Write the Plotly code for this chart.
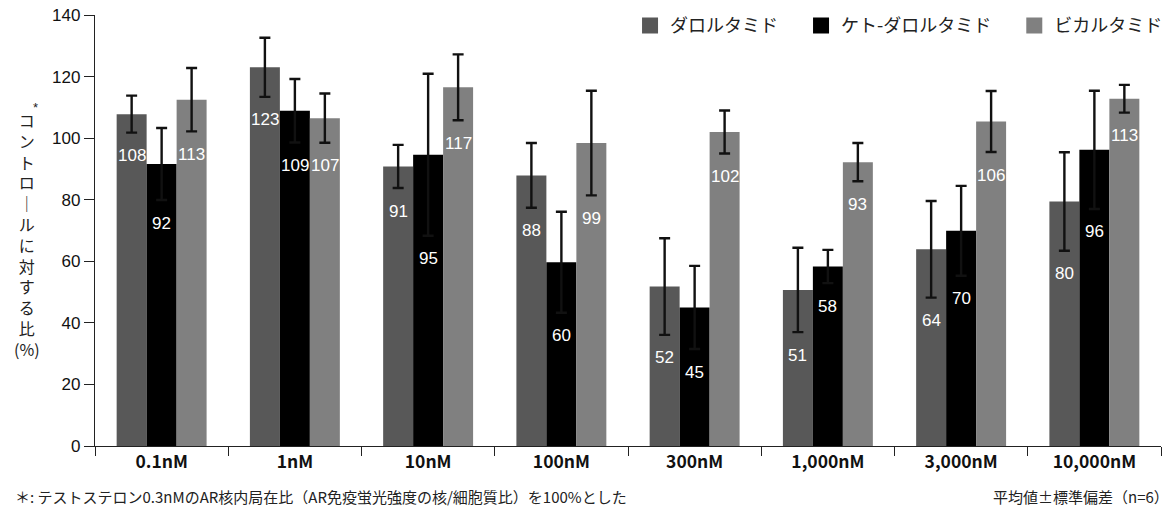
import plotly.graph_objects as go

categories = ["0.1nM", "1nM", "10nM", "100nM", "300nM", "1,000nM", "3,000nM", "10,000nM"]
series_names = ["ダロルタミド", "ケト-ダロルタミド", "ビカルタミド"]

daro = [107.8, 123.0, 90.8, 87.9, 51.8, 50.7, 63.9, 79.4]
daro_sd = [6.0, 9.6, 7.0, 10.5, 15.7, 13.7, 15.7, 16.0]
daro_lbl = ["108", "123", "91", "88", "52", "51", "64", "80"]

keto = [91.6, 108.9, 94.6, 59.7, 45.0, 58.3, 69.9, 96.2]
keto_sd = [11.7, 10.3, 26.3, 16.4, 13.5, 5.4, 14.6, 19.2]
keto_lbl = ["92", "109", "95", "60", "45", "58", "70", "96"]

bica = [112.5, 106.5, 116.5, 98.4, 102.0, 92.2, 105.4, 112.8]
bica_sd = [10.3, 8.0, 10.7, 17.0, 7.0, 6.2, 9.9, 4.5]
bica_lbl = ["113", "107", "117", "99", "102", "93", "106", "113"]

y_ticks = [0, 20, 40, 60, 80, 100, 120, 140]

colors = ["#585858", "#000000", "#808080"]
JP = "Noto Sans CJK JP"
LAT = "Liberation Sans, Arial, sans-serif"

BARGAP = 0.325
values = [daro, keto, bica]
sds = [daro_sd, keto_sd, bica_sd]
lbls = [daro_lbl, keto_lbl, bica_lbl]

fig = go.Figure()
for k in range(3):
    fig.add_trace(go.Bar(
        x=categories, y=values[k], name=series_names[k],
        marker=dict(color=colors[k], line=dict(width=0)),
        error_y=dict(type="data", array=sds[k], color="#111111", thickness=2.4, width=5.5),
        showlegend=False, hoverinfo="skip",
    ))
    # legend proxies
    fig.add_trace(go.Scatter(
        x=[None], y=[None], mode="markers", name=series_names[k] + ("\u3000" if k < 2 else ""),
        marker=dict(symbol="square", size=16, color=colors[k]),
        showlegend=True,
    ))

annotations = []
bw = (1 - BARGAP) / 3
for k in range(3):
    for i in range(len(categories)):
        annotations.append(dict(
            x=i + (k - 1) * bw, y=values[k][i] - sds[k][i], xref="x", yref="y",
            text=lbls[k][i], showarrow=False, yshift=-23, yanchor="middle",
            font=dict(family=LAT, size=17, color="white"),
        ))

ytitle_chars = ["コ", "ン", "ト", "ロ", "｜", "ル", "に", "対", "す", "る", "比", "(%)"]
annotations.append(dict(
    x=-0.0638, y=0.49, xref="paper", yref="paper", xanchor="center", yanchor="middle",
    text="<br>".join(ytitle_chars), showarrow=False,
    font=dict(family=JP, size=16, color="#222222"),
))
annotations.append(dict(
    x=-0.056, y=0.785, xref="paper", yref="paper", xanchor="center", yanchor="middle",
    text="*", showarrow=False, font=dict(family=LAT, size=13, color="#222222"),
))
annotations.append(dict(
    x=-0.077, y=-0.118, xref="paper", yref="paper", xanchor="left", yanchor="middle",
    text="＊: テストステロン0.3nMのAR核内局在比（AR免疫蛍光強度の核/細胞質比）を100%とした",
    showarrow=False, font=dict(family=JP, size=15, color="#222222"),
))
annotations.append(dict(
    x=1.009, y=-0.118, xref="paper", yref="paper", xanchor="right", yanchor="middle",
    text="平均値±標準偏差（n=6）",
    showarrow=False, font=dict(family=JP, size=15, color="#222222"),
))

fig.update_layout(
    width=1171, height=508,
    margin=dict(l=95, r=10, t=15, b=62, autoexpand=False),
    paper_bgcolor="white", plot_bgcolor="white",
    barmode="group", bargap=BARGAP, bargroupgap=0,
    annotations=annotations,
    legend=dict(orientation="h", x=1.0066, xanchor="right", y=1.018, yanchor="top",
                font=dict(family=JP, size=18, color="#222222"),
                bgcolor="rgba(0,0,0,0)", itemclick=False),
    xaxis=dict(type="category", tickson="boundaries", ticks="outside", ticklen=9,
               tickcolor="#222222", tickwidth=1.3, showline=True, linecolor="#222222",
               linewidth=1.3, showgrid=False, range=[-0.5, 7.5],
               tickfont=dict(family=JP, size=17.5, color="#111111", weight=600)),
    yaxis=dict(range=[0, 140], tickvals=y_ticks, ticks="outside", ticklen=10,
               tickcolor="#222222", tickwidth=1.3, showline=True, linecolor="#222222",
               linewidth=1.3, showgrid=False, zeroline=False,
               tickfont=dict(family=LAT, size=17, color="#111111")),
)

fig.write_html("out.html", config={"displayModeBar": False},
               post_script="document.body.style.margin='0';")
